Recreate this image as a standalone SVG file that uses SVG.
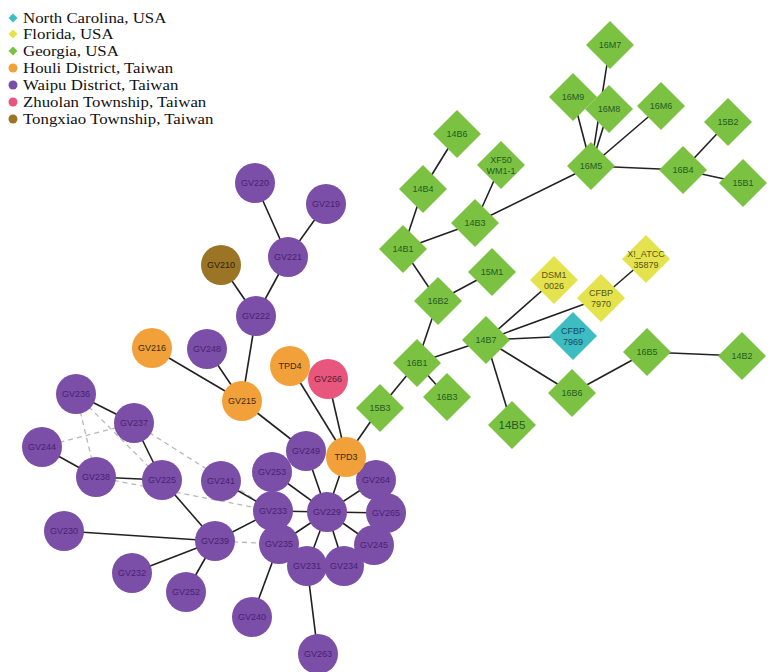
<svg xmlns="http://www.w3.org/2000/svg" xmlns:xlink="http://www.w3.org/1999/xlink" width="773" height="672" viewBox="0 0 773 672">
  <style>
    .edge { stroke: #222; stroke-width: 1.6; fill: none; }
    .dash { stroke: #b8b8b8; stroke-width: 1.3; stroke-dasharray: 5 4; fill: none; }
    .purple { fill: #7b4ea8; }
    .orange { fill: #f2a03a; }
    .pink { fill: #e8567e; }
    .brown { fill: #9b7426; }
    .green { fill: #7cc242; }
    .yellow { fill: #e4e34e; }
    .teal { fill: #3dbcc2; }
    text { font-family: "Liberation Sans", Arial, sans-serif; font-size: 9px; text-anchor: middle; dominant-baseline: central; }
    .tp { fill: #4a1f72; }
    .to { fill: #3a2a10; }
    .tk { fill: #5a1a2c; }
    .tb { fill: #2a2010; }
    .tg { fill: #1f5a22; }
    .ty { fill: #55550f; }
    .tt { fill: #17495a; }
    .legend text { font-family: "Liberation Serif", "Times New Roman", serif; font-size: 14.5px; text-anchor: start; dominant-baseline: auto; fill: #111; }
  </style>
  <defs>
    <path id="dia" d="M0,-24 L24,0 L0,24 L-24,0 Z"/>
    <path id="mdia" d="M0,-4.5 L4.5,0 L0,4.5 L-4.5,0 Z"/>
  </defs>

  <!-- legend: markers, then the labels stretched slightly wide -->
  <g id="legend" class="legend">
    <use href="#mdia" x="13" y="18" class="teal"/>
    <use href="#mdia" x="13" y="34" class="yellow"/>
    <use href="#mdia" x="13" y="51" class="green"/>
    <circle cx="13" cy="68" r="4.5" class="orange"/>
    <circle cx="13" cy="85" r="4.5" class="purple"/>
    <circle cx="13" cy="102" r="4.5" class="pink"/>
    <circle cx="13" cy="119" r="4.5" class="brown"/>
    <g transform="translate(23,0) scale(1.16,1)">
      <text x="0" y="23">North Carolina, USA</text>
      <text x="0" y="39.5">Florida, USA</text>
      <text x="0" y="56.5">Georgia, USA</text>
      <text x="0" y="73.5">Houli District, Taiwan</text>
      <text x="0" y="90.5">Waipu District, Taiwan</text>
      <text x="0" y="107.5">Zhuolan Township, Taiwan</text>
      <text x="0" y="124.5">Tongxiao Township, Taiwan</text>
    </g>
  </g>

  <!-- connectors -->
  <g id="edges">
    <!-- dashed links -->
    <line class="dash" x1="76" y1="394" x2="96" y2="477"/>
    <line class="dash" x1="76" y1="394" x2="162" y2="480"/>
    <line class="dash" x1="42" y1="447" x2="134" y2="423"/>
    <line class="dash" x1="134" y1="423" x2="273" y2="511"/>
    <line class="dash" x1="96" y1="477" x2="273" y2="511"/>
    <line class="dash" x1="215" y1="541" x2="279" y2="544"/>
    <!-- Taiwan cluster -->
    <line class="edge" x1="255" y1="183" x2="288" y2="257"/>
    <line class="edge" x1="326" y1="204" x2="288" y2="257"/>
    <line class="edge" x1="288" y1="257" x2="256" y2="316"/>
    <line class="edge" x1="221" y1="265" x2="256" y2="316"/>
    <line class="edge" x1="256" y1="316" x2="242" y2="401"/>
    <line class="edge" x1="152" y1="348" x2="242" y2="401"/>
    <line class="edge" x1="207" y1="349" x2="242" y2="401"/>
    <line class="edge" x1="242" y1="401" x2="306" y2="451"/>
    <line class="edge" x1="290" y1="366" x2="346" y2="457"/>
    <line class="edge" x1="328" y1="379" x2="346" y2="457"/>
    <line class="edge" x1="346" y1="457" x2="380" y2="408"/>
    <line class="edge" x1="346" y1="457" x2="327" y2="512"/>
    <line class="edge" x1="306" y1="451" x2="327" y2="512"/>
    <line class="edge" x1="272" y1="472" x2="327" y2="512"/>
    <line class="edge" x1="376" y1="480" x2="327" y2="512"/>
    <line class="edge" x1="386" y1="513" x2="327" y2="512"/>
    <line class="edge" x1="273" y1="511" x2="327" y2="512"/>
    <line class="edge" x1="374" y1="545" x2="327" y2="512"/>
    <line class="edge" x1="344" y1="566" x2="327" y2="512"/>
    <line class="edge" x1="307" y1="566" x2="327" y2="512"/>
    <line class="edge" x1="279" y1="544" x2="327" y2="512"/>
    <line class="edge" x1="221" y1="481" x2="273" y2="511"/>
    <line class="edge" x1="273" y1="511" x2="215" y2="541"/>
    <line class="edge" x1="162" y1="480" x2="215" y2="541"/>
    <line class="edge" x1="64" y1="531" x2="215" y2="541"/>
    <line class="edge" x1="132" y1="573" x2="215" y2="541"/>
    <line class="edge" x1="186" y1="592" x2="215" y2="541"/>
    <line class="edge" x1="279" y1="544" x2="252" y2="617"/>
    <line class="edge" x1="307" y1="566" x2="318" y2="654"/>
    <line class="edge" x1="76" y1="394" x2="134" y2="423"/>
    <line class="edge" x1="134" y1="423" x2="162" y2="480"/>
    <line class="edge" x1="42" y1="447" x2="96" y2="477"/>
    <line class="edge" x1="96" y1="477" x2="162" y2="480"/>
    <!-- USA cluster -->
    <line class="edge" x1="610" y1="45" x2="591" y2="166"/>
    <line class="edge" x1="573" y1="97" x2="591" y2="166"/>
    <line class="edge" x1="609" y1="109" x2="591" y2="166"/>
    <line class="edge" x1="661" y1="106" x2="591" y2="166"/>
    <line class="edge" x1="591" y1="166" x2="683" y2="170"/>
    <line class="edge" x1="683" y1="170" x2="728" y2="122"/>
    <line class="edge" x1="683" y1="170" x2="743" y2="183"/>
    <line class="edge" x1="591" y1="166" x2="475" y2="223"/>
    <line class="edge" x1="501" y1="165" x2="475" y2="223"/>
    <line class="edge" x1="457" y1="134" x2="423" y2="189"/>
    <line class="edge" x1="423" y1="189" x2="403" y2="249"/>
    <line class="edge" x1="475" y1="223" x2="403" y2="249"/>
    <line class="edge" x1="403" y1="249" x2="438" y2="301"/>
    <line class="edge" x1="438" y1="301" x2="492" y2="272"/>
    <line class="edge" x1="438" y1="301" x2="417" y2="363"/>
    <line class="edge" x1="417" y1="363" x2="486" y2="340"/>
    <line class="edge" x1="417" y1="363" x2="447" y2="397"/>
    <line class="edge" x1="417" y1="363" x2="380" y2="408"/>
    <line class="edge" x1="486" y1="340" x2="554" y2="280"/>
    <line class="edge" x1="486" y1="340" x2="601" y2="298"/>
    <line class="edge" x1="601" y1="298" x2="646" y2="259"/>
    <line class="edge" x1="486" y1="340" x2="573" y2="336"/>
    <line class="edge" x1="486" y1="340" x2="572" y2="393"/>
    <line class="edge" x1="486" y1="340" x2="512" y2="425"/>
    <line class="edge" x1="572" y1="393" x2="647" y2="352"/>
    <line class="edge" x1="647" y1="352" x2="742" y2="356"/>
  </g>

  <!-- Taiwan isolates (circles) -->
  <g id="GV220"><circle cx="255" cy="183" r="20" class="purple"/><text x="255" y="183" class="tp">GV220</text></g>
  <g id="GV219"><circle cx="326" cy="204" r="20" class="purple"/><text x="326" y="204" class="tp">GV219</text></g>
  <g id="GV221"><circle cx="288" cy="257" r="20" class="purple"/><text x="288" y="257" class="tp">GV221</text></g>
  <g id="GV210"><circle cx="221" cy="265" r="20" class="brown"/><text x="221" y="265" class="tb">GV210</text></g>
  <g id="GV222"><circle cx="256" cy="316" r="20" class="purple"/><text x="256" y="316" class="tp">GV222</text></g>
  <g id="GV216"><circle cx="152" cy="348" r="20" class="orange"/><text x="152" y="348" class="to">GV216</text></g>
  <g id="GV248"><circle cx="207" cy="349" r="20" class="purple"/><text x="207" y="349" class="tp">GV248</text></g>
  <g id="GV215"><circle cx="242" cy="401" r="20" class="orange"/><text x="242" y="401" class="to">GV215</text></g>
  <g id="TPD4"><circle cx="290" cy="366" r="20" class="orange"/><text x="290" y="366" class="to">TPD4</text></g>
  <g id="GV266"><circle cx="328" cy="379" r="20" class="pink"/><text x="328" y="379" class="tk">GV266</text></g>
  <g id="GV236"><circle cx="76" cy="394" r="20" class="purple"/><text x="76" y="394" class="tp">GV236</text></g>
  <g id="GV237"><circle cx="134" cy="423" r="20" class="purple"/><text x="134" y="423" class="tp">GV237</text></g>
  <g id="GV244"><circle cx="42" cy="447" r="20" class="purple"/><text x="42" y="447" class="tp">GV244</text></g>
  <g id="GV238"><circle cx="96" cy="477" r="20" class="purple"/><text x="96" y="477" class="tp">GV238</text></g>
  <g id="GV225"><circle cx="162" cy="480" r="20" class="purple"/><text x="162" y="480" class="tp">GV225</text></g>
  <g id="GV241"><circle cx="221" cy="481" r="20" class="purple"/><text x="221" y="481" class="tp">GV241</text></g>
  <g id="GV230"><circle cx="64" cy="531" r="20" class="purple"/><text x="64" y="531" class="tp">GV230</text></g>
  <g id="GV239"><circle cx="215" cy="541" r="20" class="purple"/><text x="215" y="541" class="tp">GV239</text></g>
  <g id="GV232"><circle cx="132" cy="573" r="20" class="purple"/><text x="132" y="573" class="tp">GV232</text></g>
  <g id="GV252"><circle cx="186" cy="592" r="20" class="purple"/><text x="186" y="592" class="tp">GV252</text></g>
  <g id="GV240"><circle cx="252" cy="617" r="20" class="purple"/><text x="252" y="617" class="tp">GV240</text></g>
  <g id="GV263"><circle cx="318" cy="654" r="20" class="purple"/><text x="318" y="654" class="tp">GV263</text></g>
  <g id="GV253"><circle cx="272" cy="472" r="20" class="purple"/><text x="272" y="472" class="tp">GV253</text></g>
  <g id="GV233"><circle cx="273" cy="511" r="20" class="purple"/><text x="273" y="511" class="tp">GV233</text></g>
  <g id="GV235"><circle cx="279" cy="544" r="20" class="purple"/><text x="279" y="544" class="tp">GV235</text></g>
  <g id="GV231"><circle cx="307" cy="566" r="20" class="purple"/><text x="307" y="566" class="tp">GV231</text></g>
  <g id="GV234"><circle cx="344" cy="566" r="20" class="purple"/><text x="344" y="566" class="tp">GV234</text></g>
  <g id="GV245"><circle cx="374" cy="545" r="20" class="purple"/><text x="374" y="545" class="tp">GV245</text></g>
  <g id="GV264"><circle cx="376" cy="480" r="20" class="purple"/><text x="376" y="480" class="tp">GV264</text></g>
  <g id="GV265"><circle cx="386" cy="513" r="20" class="purple"/><text x="386" y="513" class="tp">GV265</text></g>
  <g id="GV249"><circle cx="306" cy="451" r="20" class="purple"/><text x="306" y="451" class="tp">GV249</text></g>
  <g id="TPD3"><circle cx="346" cy="457" r="20" class="orange"/><text x="346" y="457" class="to">TPD3</text></g>
  <g id="GV229"><circle cx="327" cy="512" r="20" class="purple"/><text x="327" y="512" class="tp">GV229</text></g>

  <!-- USA isolates (diamonds) -->
  <g id="n16M7"><use href="#dia" x="610" y="45" class="green"/><text x="610" y="45" class="tg">16M7</text></g>
  <g id="n16M9"><use href="#dia" x="573" y="97" class="green"/><text x="573" y="97" class="tg">16M9</text></g>
  <g id="n16M8"><use href="#dia" x="609" y="109" class="green"/><text x="609" y="109" class="tg">16M8</text></g>
  <g id="n16M6"><use href="#dia" x="661" y="106" class="green"/><text x="661" y="106" class="tg">16M6</text></g>
  <g id="n15B2"><use href="#dia" x="728" y="122" class="green"/><text x="728" y="122" class="tg">15B2</text></g>
  <g id="n14B6"><use href="#dia" x="457" y="134" class="green"/><text x="457" y="134" class="tg">14B6</text></g>
  <g id="XF50"><use href="#dia" x="501" y="165" class="green"/><text x="501" y="160" class="tg">XF50</text><text x="501" y="171" class="tg">WM1-1</text></g>
  <g id="n16M5"><use href="#dia" x="591" y="166" class="green"/><text x="591" y="166" class="tg">16M5</text></g>
  <g id="n16B4"><use href="#dia" x="683" y="170" class="green"/><text x="683" y="170" class="tg">16B4</text></g>
  <g id="n15B1"><use href="#dia" x="743" y="183" class="green"/><text x="743" y="183" class="tg">15B1</text></g>
  <g id="n14B4"><use href="#dia" x="423" y="189" class="green"/><text x="423" y="189" class="tg">14B4</text></g>
  <g id="n14B3"><use href="#dia" x="475" y="223" class="green"/><text x="475" y="223" class="tg">14B3</text></g>
  <g id="n14B1"><use href="#dia" x="403" y="249" class="green"/><text x="403" y="249" class="tg">14B1</text></g>
  <g id="n15M1"><use href="#dia" x="492" y="272" class="green"/><text x="492" y="272" class="tg">15M1</text></g>
  <g id="DSM1"><use href="#dia" x="554" y="280" class="yellow"/><text x="554" y="275" class="ty">DSM1</text><text x="554" y="286" class="ty">0026</text></g>
  <g id="XfATCC"><use href="#dia" x="646" y="259" class="yellow"/><text x="646" y="254" class="ty">X!_ATCC</text><text x="646" y="265" class="ty">35879</text></g>
  <g id="CFBP7970"><use href="#dia" x="601" y="298" class="yellow"/><text x="601" y="293" class="ty">CFBP</text><text x="601" y="304" class="ty">7970</text></g>
  <g id="n16B2"><use href="#dia" x="438" y="301" class="green"/><text x="438" y="301" class="tg">16B2</text></g>
  <g id="CFBP7969"><use href="#dia" x="573" y="336" class="teal"/><text x="573" y="331" class="tt">CFBP</text><text x="573" y="342" class="tt">7969</text></g>
  <g id="n14B7"><use href="#dia" x="486" y="340" class="green"/><text x="486" y="340" class="tg">14B7</text></g>
  <g id="n16B5"><use href="#dia" x="647" y="352" class="green"/><text x="647" y="352" class="tg">16B5</text></g>
  <g id="n14B2"><use href="#dia" x="742" y="356" class="green"/><text x="742" y="356" class="tg">14B2</text></g>
  <g id="n16B1"><use href="#dia" x="417" y="363" class="green"/><text x="417" y="363" class="tg">16B1</text></g>
  <g id="n16B6"><use href="#dia" x="572" y="393" class="green"/><text x="572" y="393" class="tg">16B6</text></g>
  <g id="n16B3"><use href="#dia" x="447" y="397" class="green"/><text x="447" y="397" class="tg">16B3</text></g>
  <g id="n15B3"><use href="#dia" x="380" y="408" class="green"/><text x="380" y="408" class="tg">15B3</text></g>
  <g id="n14B5"><use href="#dia" x="512" y="425" class="green"/><text x="512" y="425" class="tg" style="font-size:11.5px">14B5</text></g>
</svg>
